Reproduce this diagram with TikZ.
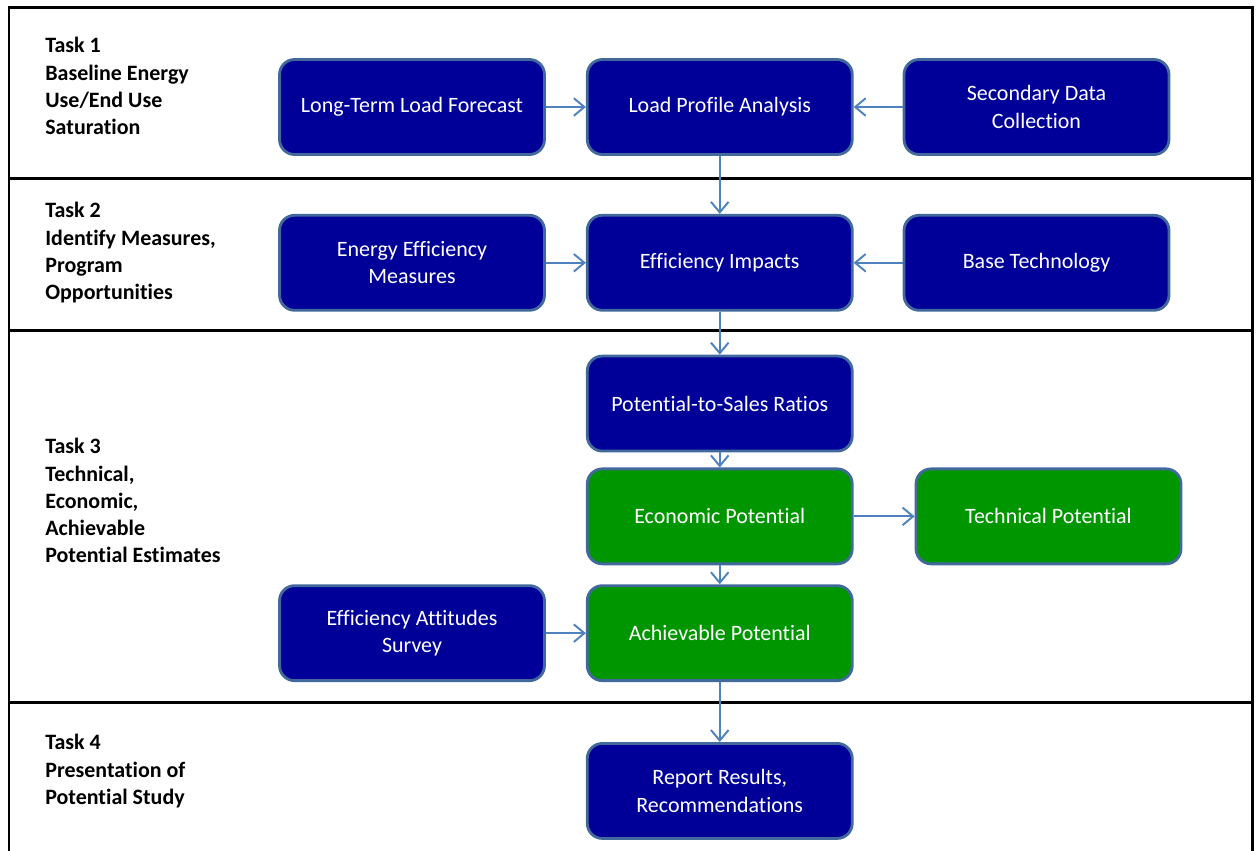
\documentclass[tikz,border=0pt]{standalone}
\usepackage{fontspec}
\setmainfont{Carlito}[Ligatures={NoCommon,NoRequired,NoContextual},RawFeature={-liga;-clig;-calt}]
\usetikzlibrary{positioning,arrows.meta}

\definecolor{boxnavy}{RGB}{0,0,153}
\definecolor{boxgreen}{RGB}{0,150,0}
\definecolor{boxrim}{RGB}{65,105,155}
\definecolor{flowblue}{RGB}{79,129,189}

\begin{document}
\begin{tikzpicture}[x=0.02cm,y=-0.02cm,>={Straight Barb[length=6pt,width=10pt]},
		base box/.style={rectangle,rounded corners=0.3cm,draw=boxrim,line width=1.6pt,minimum width=5.3cm,minimum height=1.9cm,text=white,align=center,font=\fontsize{12.5}{15.5}\selectfont},
		task box/.style={base box,fill=boxnavy}, result box/.style={base box,fill=boxgreen},
		task label/.style={anchor=north west,inner sep=0pt,align=left,font=\bfseries\fontsize{12.5}{15.5}\selectfont},
		flow/.style={->,draw=flowblue,line width=1.1pt}, frame line/.style={line width=1.7pt}]
		\useasboundingbox (0,0) rectangle (1256,850);
		% 任务分区
		\draw[frame line] (9,853) -- (9,7) -- (1252,7) -- (1252,853);
		\draw[frame line] (9,178) -- (1252,178) (9,330) -- (1252,330) (9,702) -- (1252,702);
		\node[task label] (t1) at (45,37) {Task 1\\Baseline Energy\\Use/End Use\\Saturation};
		\node[task label] (t2) at (45,202) {Task 2\\Identify Measures,\\Program\\Opportunities};
		\node[task label] (t3) at (45,438) {Task 3\\Technical,\\Economic,\\Achievable\\Potential Estimates};
		\node[task label] (t4) at (45,734) {Task 4\\Presentation of\\Potential Study};
		% 流程框
		\node[task box] (ltlf) at (412,107) {Long-Term Load Forecast};
		\node[task box] (lpa) [right=0.8cm of ltlf] {Load Profile Analysis};
		\node[task box] (sdc) [right=0.98cm of lpa] {Secondary Data\\Collection};
		\node[task box] (ei) [below=1.16cm of lpa] {Efficiency Impacts};
		\node[task box] (eem) [left=0.8cm of ei] {Energy Efficiency\\Measures};
		\node[task box] (bt) [right=0.98cm of ei] {Base Technology};
		\node[task box] (psr) [below=0.86cm of ei] {Potential-to-Sales Ratios};
		\node[result box] (ecp) [below=0.3cm of psr] {Economic Potential};
		\node[result box] (tcp) [right=1.22cm of ecp] {Technical Potential};
		\node[result box] (acp) [below=0.38cm of ecp] {Achievable Potential};
		\node[task box] (eas) [left=0.8cm of acp] {Efficiency Attitudes\\Survey};
		\node[task box] (rr) [below=1.2cm of acp] {Report Results,\\Recommendations};
		\path[flow]
		(ltlf) edge (lpa)
		(sdc) edge (lpa)
		(lpa) edge (ei)
		(eem) edge (ei)
		(bt) edge (ei)
		(ei) edge (psr)
		(psr) edge (ecp)
		(ecp) edge (tcp)
		(ecp) edge (acp)
		(eas) edge (acp)
		(acp) edge (rr);
\end{tikzpicture}
\end{document}
